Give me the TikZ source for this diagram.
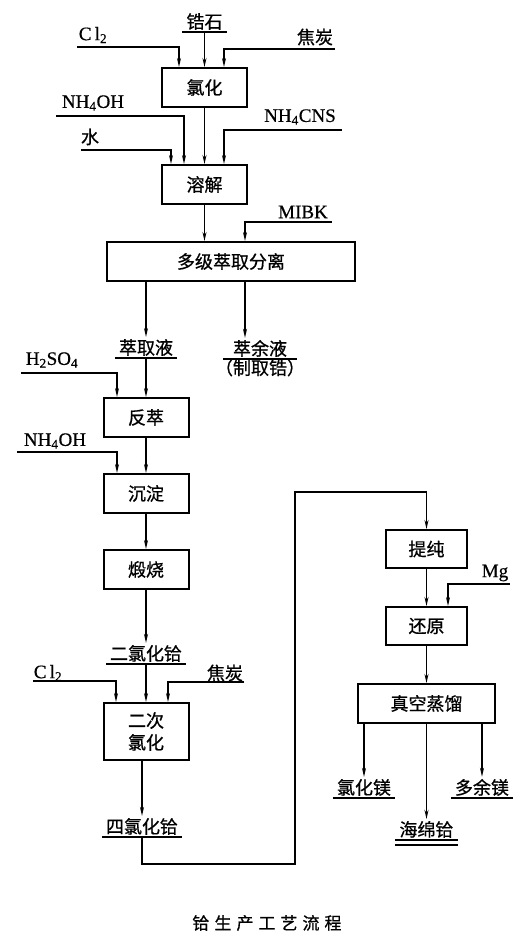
\documentclass[tikz,border=0pt]{standalone}
\usepackage{fontspec}
\setmainfont{Liberation Serif}[FakeBold=0.6]
\newfontfamily\cjk{Noto Sans CJK SC}[FakeBold=0.8]
\usetikzlibrary{arrows.meta, calc}

\begin{document}
\begin{tikzpicture}[x=1pt, y=-1pt,
    stage/.style={rectangle, draw, line width=2pt, minimum width=85pt, minimum height=39pt, inner sep=0pt, font=\cjk\fontsize{18}{22}\selectfont},
    product/.style={inner xsep=4pt, inner ysep=2pt, font=\cjk\fontsize{18}{22}\selectfont},
    feed/.style={inner sep=0pt, font=\fontsize{19}{21}\selectfont},
    cfeed/.style={inner sep=0pt, font=\cjk\fontsize{18}{22}\selectfont},
    flow/.style={-{Stealth[length=9pt,width=4pt]}, line width=1.4pt},
    bar/.style={line width=1.7pt}]

    \useasboundingbox (0,0) rectangle (527,947);

    % Process stages
    \node[stage] (chl) at (204.5,87.5) {氯化};
    \node[stage] (dis) at (204.5,184.5) {溶解};
    \node[stage, minimum width=248pt] (ext) at (231,261.5) {多级萃取分离};
    \node[stage] (strip) at (146,417.5) {反萃};
    \node[stage] (prec) at (146,493.5) {沉淀};
    \node[stage] (roast) at (146,569.5) {煅烧};
    \node[stage, minimum height=57pt, align=center] (chl2) at (146,731.5) {二次\\氯化};
    \node[stage, minimum width=81pt, minimum height=38pt] (pur) at (426.5,549) {提纯};
    \node[stage, minimum width=81pt, minimum height=38pt] (red) at (426.5,626) {还原};
    \node[stage, minimum width=137pt] (dist) at (426.5,703.5) {真空蒸馏};

    % Materials and products (underlined)
    \node[product, anchor=south] (zr) at (204.5,32) {锆石};
    \node[product, anchor=south] (liq) at (146,358) {萃取液};
    \node[product, anchor=south, minimum width=74pt] (raf) at (260,359) {萃余液};
    \node[product, anchor=north, inner ysep=0pt] (rafnote) at (raf.south) {（制取锆）};
    \node[product, anchor=south] (hfo) at (146,664) {二氯化铪};
    \node[product, anchor=south] (hfcl) at (142,837) {四氯化铪};
    \node[product, anchor=south] (mgcl) at (364,798) {氯化镁};
    \node[product, anchor=south] (sponge) at (426.5,840) {海绵铪};
    \node[product, anchor=south] (mgex) at (482,798) {多余镁};
    \foreach \p in {zr, liq, raf, hfo, hfcl, mgcl, sponge, mgex}
        \draw[bar] (\p.south west) -- (\p.south east);
    \draw[bar] ($(sponge.south west)+(0,5)$) -- ($(sponge.south east)+(0,5)$);

    % Feed labels
    \node[feed] (fcl) at (93,35) {C\,l\textsubscript{2}};
    \node[cfeed] (fc) at (315,37) {焦炭};
    \node[feed] (fnh) at (93,103) {NH\textsubscript{4}OH};
    \node[cfeed] (fw) at (90,137) {水};
    \node[feed] (fcns) at (300,117) {NH\textsubscript{4}CNS};
    \node[feed] (fmibk) at (303,212) {MIBK};
    \node[feed] (fsa) at (52,360) {H\textsubscript{2}SO\textsubscript{4}};
    \node[feed] (fnh2) at (55,441) {NH\textsubscript{4}OH};
    \node[feed] (fcl2) at (48,673) {C\,l\textsubscript{2}};
    \node[cfeed] (fc2) at (225,673) {焦炭};
    \node[feed] (fmg) at (495,573) {Mg};

    % Free ends of feed lines
    \coordinate (cl) at (77,47);
    \coordinate (c) at (335,49);
    \coordinate (nh) at (56,116);
    \coordinate (w) at (81,150);
    \coordinate (cns) at (342,130);
    \coordinate (mibk) at (332,222);
    \coordinate (sa) at (21,373);
    \coordinate (nh2) at (17,452);
    \coordinate (cl2) at (33,681);
    \coordinate (c2) at (244,682);
    \coordinate (mg) at (510,584);

    % Main flow
    \draw[flow] (zr.south) -- (chl);
    \draw[flow] (chl) -- (dis);
    \draw[flow] (dis.south) -- (dis.south |- ext.north);
    \draw[flow] (ext.south -| liq) -- (liq.north);
    \coordinate (rafin) at ($(ext.south)+(14,0)$);
    \draw[flow] (rafin) -- (rafin |- raf.north);
    \draw[flow] (liq.south) -- (strip);
    \draw[flow] (strip) -- (prec);
    \draw[flow] (prec) -- (roast);
    \draw[flow] (roast) -- (hfo.north);
    \draw[flow] (hfo.south) -- (chl2);
    \draw[flow] (chl2.south -| hfcl) -- (hfcl.north);
    \draw[flow] (hfcl.south) |- (295,864) -- (295,492) -| (pur.north);
    \draw[flow] (pur) -- (red);
    \draw[flow] (red) -- (dist);
    \draw[flow] (dist.south -| mgcl) -- (mgcl.north);
    \draw[flow] (dist) -- (sponge.north);
    \draw[flow] (dist.south -| mgex) -- (mgex.north);

    % Feeds
    \draw[flow] (cl) -| ($(chl.north)+(-25.5,0)$);
    \draw[flow] (c) -| ($(chl.north)+(19.5,0)$);
    \draw[flow] (nh) -| ($(dis.north)+(-20.5,0)$);
    \draw[flow] (w) -| ($(dis.north)+(-33.5,0)$);
    \draw[flow] (cns) -| ($(dis.north)+(19.5,0)$);
    \draw[flow] (mibk) -| ($(ext.north)+(14,0)$);
    \draw[flow] (sa) -| ($(strip.north)+(-29,0)$);
    \draw[flow] (nh2) -| ($(prec.north)+(-29,0)$);
    \draw[flow] (cl2) -| ($(chl2.north)+(-30,0)$);
    \draw[flow] (c2) -| ($(chl2.north)+(22,0)$);
    \draw[flow] (mg) -| ($(red.north)+(21.5,0)$);

    % Caption
    \node[cfeed, font=\cjk\fontsize{17}{20}\selectfont] (title) at (267,923)
        {铪\hspace{5pt}生\hspace{5pt}产\hspace{5pt}工\hspace{5pt}艺\hspace{5pt}流\hspace{5pt}程};
\end{tikzpicture}
\end{document}
